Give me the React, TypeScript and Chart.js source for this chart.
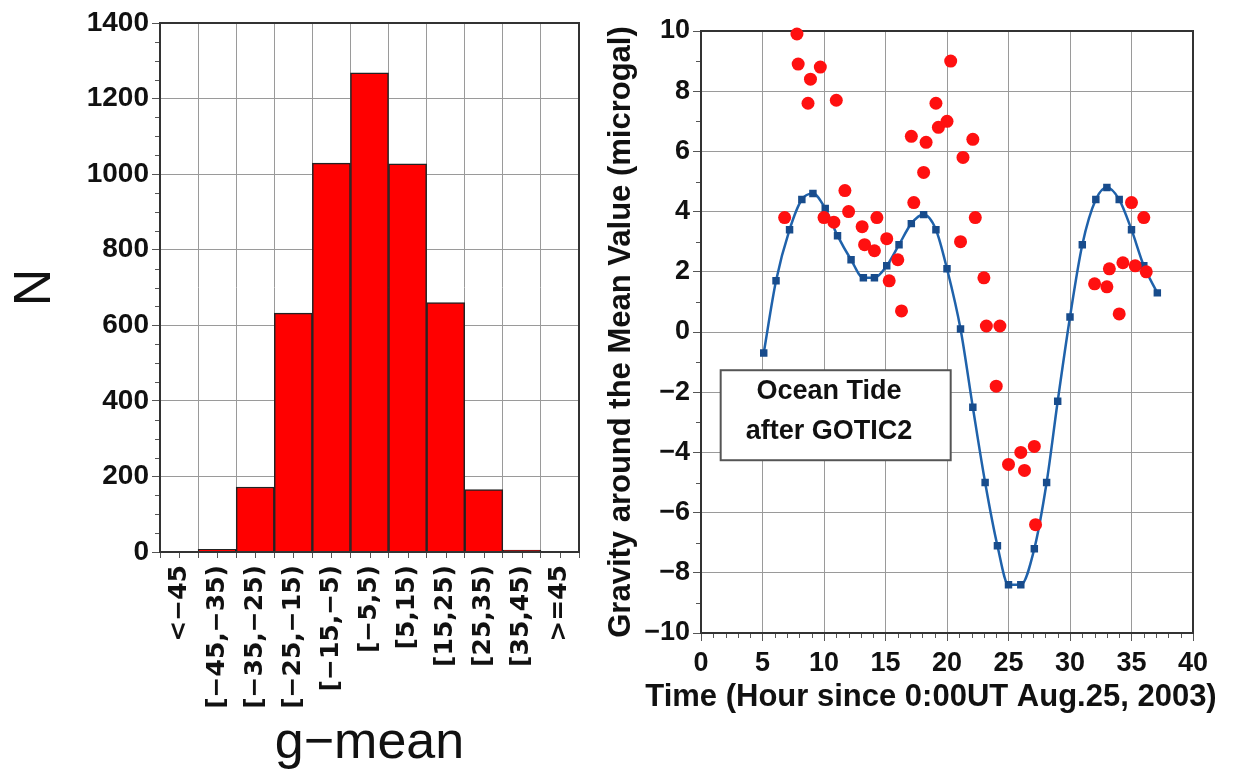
import React, { useEffect, useRef } from "react";
import { Chart, registerables } from "chart.js";
Chart.register(...registerables);

// ---- Histogram data ----
const binLabels = ["<−45", "[−45,−35)", "[−35,−25)", "[−25,−15)", "[−15,−5)", "[−5,5)", "[5,15)", "[15,25)", "[25,35)", "[35,45)", ">=45"];
const binCounts = [0, 7, 172, 632, 1029, 1268, 1027, 660, 165, 5, 0];

// ---- Ocean tide (GOTIC2) model ----
const tideHours = [5.1, 6.1, 7.2, 8.2, 9.1, 10.1, 11.1, 12.2, 13.2, 14.1, 15.1, 16.1, 17.1, 18.1, 19.1, 20.0, 21.1, 22.1, 23.1, 24.1, 25.0, 26.0, 27.1, 28.1, 29.0, 30.0, 31.0, 32.1, 33.0, 34.0, 35.0, 36.0, 37.1];
const tideValues = [-0.7, 1.7, 3.4, 4.4, 4.6, 4.1, 3.2, 2.4, 1.8, 1.8, 2.2, 2.9, 3.6, 3.9, 3.4, 2.1, 0.1, -2.5, -5.0, -7.1, -8.4, -8.4, -7.2, -5.0, -2.3, 0.5, 2.9, 4.4, 4.8, 4.4, 3.4, 2.2, 1.3];

// ---- Observed gravity ----
const obsHours = [6.8, 7.8, 7.9, 8.7, 8.9, 9.7, 10.0, 10.8, 11.0, 11.7, 12.0, 13.1, 13.3, 14.1, 14.3, 15.1, 15.3, 16.0, 16.3, 17.1, 17.3, 18.1, 18.3, 19.1, 19.3, 20.0, 20.3, 21.1, 21.3, 22.1, 22.3, 23.0, 23.2, 24.0, 24.3, 25.0, 26.0, 26.3, 27.1, 27.2, 32.0, 33.0, 33.2, 34.0, 34.3, 35.0, 35.3, 36.0, 36.2];
const obsValues = [3.8, 9.9, 8.9, 7.6, 8.4, 8.8, 3.8, 3.65, 7.7, 4.7, 4.0, 3.5, 2.9, 2.7, 3.8, 3.1, 1.7, 2.4, 0.7, 6.5, 4.3, 5.3, 6.3, 7.6, 6.8, 7.0, 9.0, 3.0, 5.8, 6.4, 3.8, 1.8, 0.2, -1.8, 0.2, -4.4, -4.0, -4.6, -3.8, -6.4, 1.6, 1.5, 2.1, 0.6, 2.3, 4.3, 2.2, 3.8, 2.0];

const FONT = "'Liberation Sans', Arial, sans-serif";
const GRID = "#9a9a9a";
const TICK = "#555";

const leftDecor = {
  id: "leftDecor",
  beforeDatasetsDraw(chart: any) {
    const { ctx, chartArea: a, scales } = chart;
    const y = scales.y, x = scales.x;
    ctx.save();
    ctx.strokeStyle = TICK;
    ctx.lineWidth = 1;
    ctx.beginPath();
    for (let v = 50; v < 1400; v += 50) {
      if (v % 200 === 0) continue;
      const py = Math.round(y.getPixelForValue(v)) + 0.5;
      ctx.moveTo(a.left - 5, py);
      ctx.lineTo(a.left, py);
    }
    for (let i = 0; i < binLabels.length; i++) {
      const px = Math.round(x.getPixelForValue(i)) + 0.5;
      ctx.moveTo(px, a.bottom);
      ctx.lineTo(px, a.bottom + 6);
    }
    ctx.stroke();
    ctx.restore();
  },
  afterDraw(chart: any) {
    const { ctx, chartArea: a } = chart;
    ctx.save();
    ctx.strokeStyle = "#333";
    ctx.lineWidth = 2;
    ctx.strokeRect(a.left, a.top, a.right - a.left, a.bottom - a.top);
    ctx.restore();
  },
};

const rightDecor = {
  id: "rightDecor",
  beforeDatasetsDraw(chart: any) {
    const { ctx, chartArea: a, scales } = chart;
    const y = scales.y, x = scales.x;
    ctx.save();
    ctx.strokeStyle = TICK;
    ctx.lineWidth = 1;
    ctx.beginPath();
    for (let v = 1; v < 40; v++) {
      if (v % 5 === 0) continue;
      const px = Math.round(x.getPixelForValue(v)) + 0.5;
      ctx.moveTo(px, a.bottom);
      ctx.lineTo(px, a.bottom + 5);
    }
    for (let v = -9; v < 10; v += 2) {
      const py = Math.round(y.getPixelForValue(v)) + 0.5;
      ctx.moveTo(a.left - 5, py);
      ctx.lineTo(a.left, py);
    }
    ctx.stroke();
    ctx.strokeStyle = "#333";
    ctx.lineWidth = 2;
    ctx.strokeRect(a.left, a.top, a.right - a.left, a.bottom - a.top);

    // annotation box
    const bx0 = x.getPixelForValue(1.6), bx1 = x.getPixelForValue(20.3);
    const by0 = y.getPixelForValue(-1.27), by1 = y.getPixelForValue(-4.26);
    ctx.fillStyle = "#fff";
    ctx.fillRect(bx0, by0, bx1 - bx0, by1 - by0);
    ctx.strokeStyle = "#555";
    ctx.lineWidth = 2;
    ctx.strokeRect(bx0, by0, bx1 - bx0, by1 - by0);
    ctx.fillStyle = "#111";
    ctx.font = `bold 27px ${FONT}`;
    ctx.textAlign = "center";
    ctx.textBaseline = "middle";
    const tx = x.getPixelForValue(10.4);
    ctx.fillText("Ocean Tide", tx, y.getPixelForValue(-1.97));
    ctx.fillText("after GOTIC2", tx, y.getPixelForValue(-3.3));

    // x axis title
    ctx.font = `bold 31px ${FONT}`;
    ctx.fillStyle = "#111";
    ctx.fillText("Time (Hour since 0:00UT Aug.25, 2003)", 331, 697);
    ctx.restore();
  },
};

export default function App() {
  const leftRef = useRef<HTMLCanvasElement>(null);
  const rightRef = useRef<HTMLCanvasElement>(null);

  useEffect(() => {
    const c1 = new Chart(leftRef.current as HTMLCanvasElement, {
      type: "bar",
      data: {
        labels: binLabels,
        datasets: [
          {
            data: binCounts,
            backgroundColor: "#ff0000",
            borderColor: "#222",
            borderWidth: 1.5,
            barPercentage: 1,
            categoryPercentage: 1,
          },
        ],
      },
      options: {
        animation: false,
        responsive: false,
        devicePixelRatio: 1,
        layout: { padding: { left: 0, right: 21, top: 23, bottom: 0 } },
        plugins: { legend: { display: false }, tooltip: { enabled: false } },
        scales: {
          x: {
            offset: true,
            grid: { offset: true, color: GRID, tickColor: TICK, tickLength: 6 },
            border: { display: false },
            ticks: {
              autoSkip: false,
              maxRotation: 90,
              minRotation: 90,
              padding: 7,
              color: "#111",
              font: { family: "'DejaVu Sans', sans-serif", size: 25, weight: "bold" },
            },
            title: {
              display: true,
              text: "g−mean",
              color: "#111",
              font: { family: FONT, size: 52 },
              padding: { top: 0, bottom: 8 },
            },
            afterFit: (s: any) => { s.height = 231; },
          },
          y: {
            min: 0,
            max: 1400,
            ticks: {
              stepSize: 200,
              padding: 3,
              color: "#111",
              font: { family: FONT, size: 28, weight: "bold" },
              callback: (v: any) => String(v),
            },
            grid: { color: GRID, tickColor: TICK, tickLength: 8 },
            border: { display: false },
            title: {
              display: true,
              text: "N",
              color: "#111",
              font: { family: FONT, size: 52 },
              padding: { top: 4, bottom: 0 },
            },
            afterFit: (s: any) => { s.width = 160; },
          },
        },
      },
      plugins: [leftDecor],
    } as any);

    const c2 = new Chart(rightRef.current as HTMLCanvasElement, {
      type: "scatter",
      data: {
        datasets: [
          {
            label: "Observed",
            data: obsHours.map((h, i) => ({ x: h, y: obsValues[i] })),
            backgroundColor: "#ff1010",
            borderWidth: 0,
            pointRadius: 6.5,
            showLine: false,
            clip: false,
            order: 0,
          },
          {
            label: "Ocean Tide after GOTIC2",
            data: tideHours.map((h, i) => ({ x: h, y: tideValues[i] })),
            showLine: true,
            borderColor: "#1f62ab",
            borderWidth: 2.5,
            backgroundColor: "#184c8c",
            pointBorderColor: "#184c8c",
            pointStyle: "rect",
            pointRadius: 3.5,
            cubicInterpolationMode: "monotone",
            clip: false,
            order: 1,
          },
        ],
      },
      options: {
        animation: false,
        responsive: false,
        devicePixelRatio: 1,
        layout: { padding: { left: 0, right: 41, top: 31, bottom: 0 } },
        plugins: { legend: { display: false }, tooltip: { enabled: false } },
        scales: {
          x: {
            type: "linear",
            min: 0,
            max: 40,
            ticks: { stepSize: 5, padding: 6, color: "#111", font: { family: FONT, size: 27, weight: "bold" } },
            grid: { color: GRID, tickColor: TICK, tickLength: 8 },
            border: { display: false },
            afterFit: (s: any) => { s.height = 150; },
          },
          y: {
            min: -10,
            max: 10,
            ticks: {
              stepSize: 2,
              padding: 3,
              color: "#111",
              font: { family: FONT, size: 27, weight: "bold" },
              callback: (v: any) => String(v).replace("-", "−"),
            },
            grid: { color: GRID, tickColor: TICK, tickLength: 8 },
            border: { display: false },
            title: {
              display: true,
              text: "Gravity around the Mean Value (microgal)",
              color: "#111",
              font: { family: FONT, size: 31, weight: "bold" },
              padding: { top: 3, bottom: 0 },
            },
            afterFit: (s: any) => { s.width = 101; },
          },
        },
      },
      plugins: [rightDecor],
    } as any);

    return () => {
      c1.destroy();
      c2.destroy();
    };
  }, []);

  return (
    <div style={{ position: "absolute", left: 0, top: 0, width: 1234, height: 783, background: "#fff" }}>
      <canvas ref={leftRef} width={600} height={783} style={{ position: "absolute", left: 0, top: 0, width: 600, height: 783 }} />
      <canvas ref={rightRef} width={634} height={783} style={{ position: "absolute", left: 600, top: 0, width: 634, height: 783 }} />
    </div>
  );
}
